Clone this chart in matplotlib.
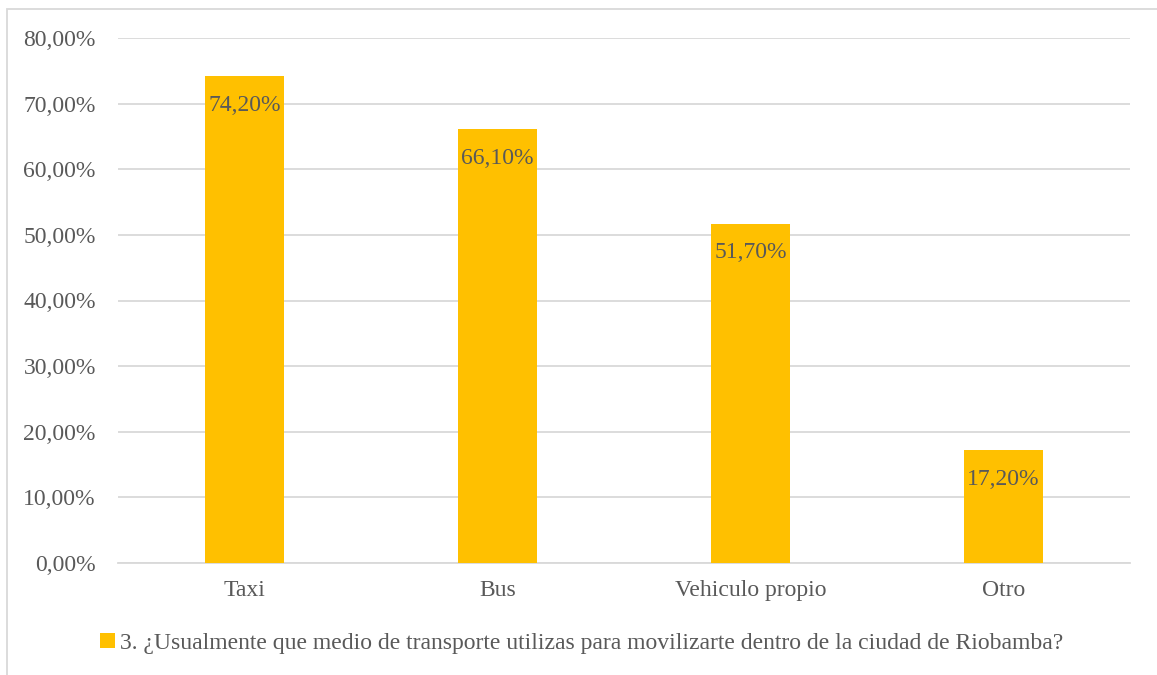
import matplotlib.pyplot as plt
from matplotlib.patches import Rectangle
from matplotlib.ticker import FuncFormatter

# data
categories = ["Taxi", "Bus", "Vehiculo propio", "Otro"]
values = [74.2, 66.1, 51.7, 17.2]
series_name = "3. ¿Usualmente que medio de transporte utilizas para movilizarte dentro de la ciudad de Riobamba?"

gold = "#FFC000"
txt = "#595959"
grid = "#D9D9D9"
fs = 17

plt.rcParams["font.family"] = ["Liberation Serif", "DejaVu Serif"]

fig = plt.figure(figsize=(11.57, 6.75), dpi=100)
W, H = 1157, 675
ax = fig.add_axes([118 / W, 1 - 563 / H, (1130 - 118) / W, (563 - 38) / H])

x = range(len(categories))
bars = ax.bar(x, values, width=0.315, color=gold, label=series_name, zorder=3)

for b, v in zip(bars, values):
    ax.annotate(("%.2f%%" % v).replace(".", ","),
                (b.get_x() + b.get_width() / 2, v),
                xytext=(0, -21), textcoords="offset points",
                ha="center", va="center", fontsize=fs, color=txt, zorder=4)

ax.set_ylim(0, 80)
ax.set_xlim(-0.5, len(categories) - 0.5)
ax.set_yticks(range(0, 81, 10))
ax.yaxis.set_major_formatter(FuncFormatter(lambda v, p: ("%.2f%%" % v).replace(".", ",")))
ax.set_xticks(list(x))
ax.set_xticklabels(categories)
ax.tick_params(axis="both", length=0, labelsize=fs, colors=txt)
ax.tick_params(axis="y", pad=16)
ax.tick_params(axis="x", pad=12)
ax.yaxis.grid(True, color=grid, linewidth=1.3, zorder=0)
for s in ["top", "right", "left"]:
    ax.spines[s].set_visible(False)
ax.spines["bottom"].set_color(grid)
ax.spines["bottom"].set_linewidth(1.3)

ax.legend(loc="center", bbox_to_anchor=(582 / W, 1 - 643 / H), bbox_transform=fig.transFigure,
          frameon=False, fontsize=fs, labelcolor=txt, handlelength=0.6, handleheight=0.6,
          handletextpad=0.25)

# outer chart frame (cut off at right/bottom in the reference)
fig.patches.append(Rectangle((7 / W, -0.1), 1.2, 1 - 9 / H + 0.1, transform=fig.transFigure,
                             fill=False, edgecolor=grid, linewidth=1.3))

fig.savefig("out.png", dpi=100)
